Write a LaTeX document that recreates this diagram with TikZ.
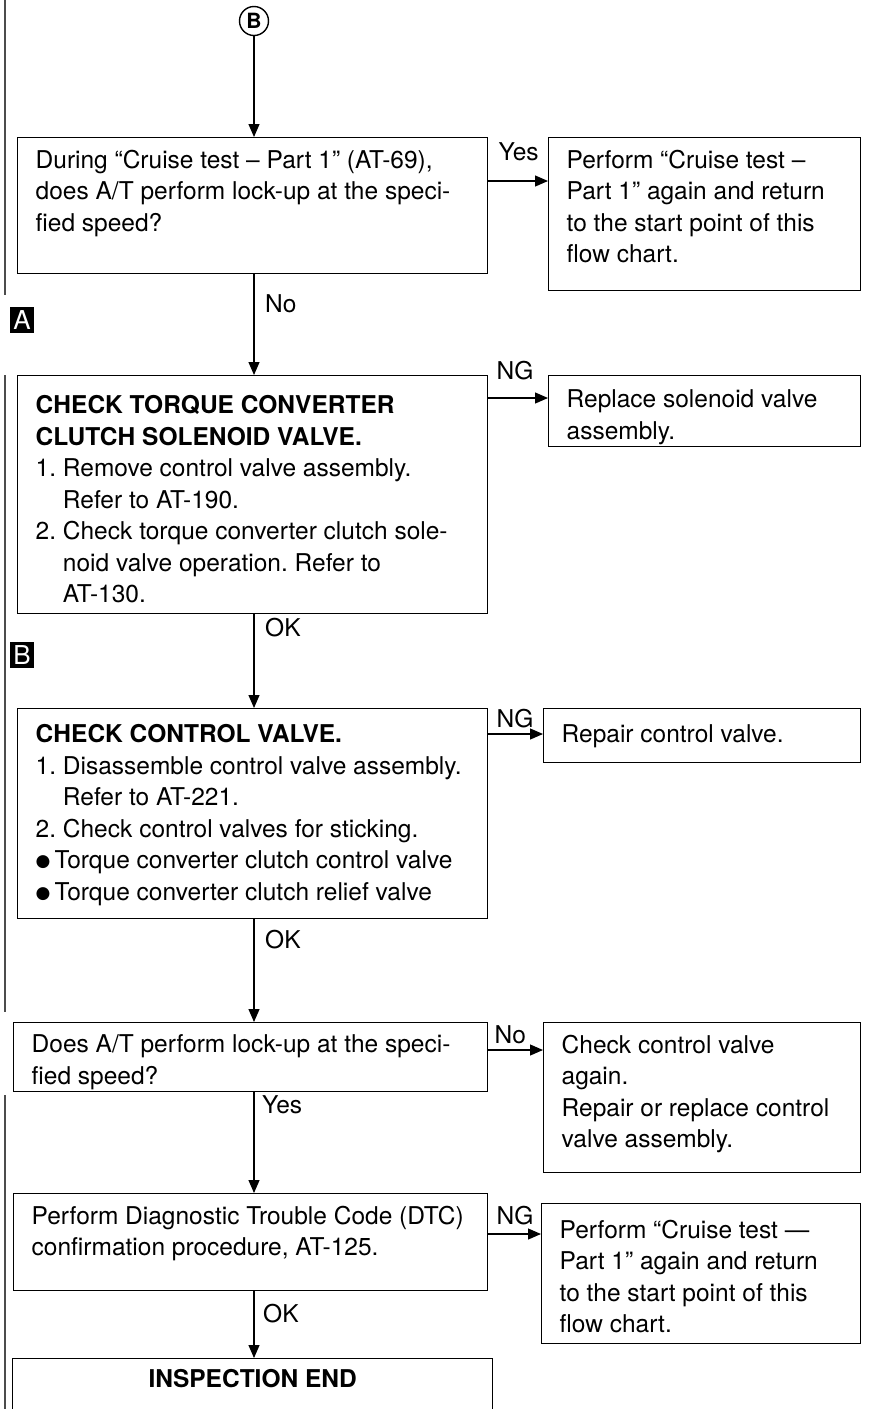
\documentclass[tikz,border=0pt]{standalone}
\usepackage{fontspec}
\setmainfont{TeX Gyre Heros}
\newfontfamily\symfont{DejaVu Sans}
\usetikzlibrary{arrows.meta, positioning, calc}

\newcommand{\chartfont}{\fontsize{24.5pt}{31.5pt}\selectfont}
% text block of a chart box: [top gap], width, height, lines
\newcommand{\boxtext}[4][12pt]{\parbox[c][#3][t]{#2}{\frenchspacing\leftskip=18pt\rightskip=0pt plus 1fil\parindent=0pt\vspace*{#1}#4}}
\newcommand{\dotitem}{\raisebox{2pt}{\symfont\fontsize{17pt}{17pt}\selectfont ●}\kern4pt}
\newcommand{\cont}{\hphantom{1.\ }}

\begin{document}
\begin{tikzpicture}[x=1pt, y=-1pt,
  chk/.style={draw, line width=1.4pt, anchor=north west, inner sep=0pt, font=\chartfont},
  arr/.style={-{Triangle[length=13pt,width=11pt]}, line width=1.2pt},
  lbl/.style={font=\chartfont, inner sep=0pt},
  tagbox/.style={fill=black, text=white, minimum width=24pt, minimum height=26pt, inner sep=0pt, font=\fontsize{26pt}{26pt}\selectfont}
]
  \useasboundingbox (0,0) rectangle (868,1409);
  \clip (0,0) rectangle (868,1409);

  % page edge marks
  \draw[line width=1.5pt, black!70] (5,0) -- (5,295) (5,375) -- (5,1012) (5,1095) -- (5,1409);

  % ── entry ──
  \node[circle, draw, line width=1.4pt, inner sep=0pt, minimum size=29pt, font=\fontsize{21pt}{21pt}\selectfont\bfseries] (start) at (254,21) {B};

  % ── left column ──
  \node[chk] (q1) at (17,137) {\boxtext{470pt}{136pt}{During “Cruise test – Part 1” (AT-69),\\does A/T perform lock-up at the speci-\\fied speed?}};
  \node[chk] (q2) at (17,375) {\boxtext[20pt]{470pt}{238pt}{{\bfseries CHECK TORQUE CONVERTER\\CLUTCH SOLENOID VALVE.}\\1. Remove control valve assembly.\\\cont Refer to AT-190.\\2. Check torque converter clutch sole-\\\cont noid valve operation. Refer to\\\cont AT-130.}};
  \node[chk] (q3) at (17,708) {\boxtext[16pt]{470pt}{210pt}{{\bfseries CHECK CONTROL VALVE.}\\1. Disassemble control valve assembly.\\\cont Refer to AT-221.\\2. Check control valves for sticking.\\\dotitem Torque converter clutch control valve\\\dotitem Torque converter clutch relief valve}};
  \node[chk] (q4) at (13,1022) {\boxtext{474pt}{69pt}{Does A/T perform lock-up at the speci-\\fied speed?}};
  \node[chk] (q5) at (13,1193) {\boxtext{474pt}{97pt}{Perform Diagnostic Trouble Code (DTC)\\confirmation procedure, AT-125.}};
  \node[chk] (fin) at (12,1358) {\parbox[c][90pt][t]{480pt}{\centering\vspace*{11pt}\bfseries INSPECTION END}};

  % ── right column ──
  \node[chk] (a1) at (548,137) {\boxtext{312pt}{153pt}{Perform “Cruise test –\\Part 1” again and return\\to the start point of this\\flow chart.}};
  \node[chk] (a2) at (548,375) {\boxtext[14pt]{312pt}{71pt}{Replace solenoid valve\\assembly.}};
  \node[chk] (a3) at (543,708) {\boxtext[16pt]{317pt}{54pt}{Repair control valve.}};
  \node[chk] (a4) at (543,1022) {\boxtext{317pt}{150pt}{Check control valve\\again.\\Repair or replace control\\valve assembly.}};
  \node[chk] (a5) at (541,1203) {\boxtext[16pt]{319pt}{140pt}{Perform “Cruise test —\\Part 1” again and return\\to the start point of this\\flow chart.}};

  % ── section tags ──
  \node[tagbox] (tagA) at (22,320) {A};
  \node[tagbox] (tagB) at (22,655) {B};

  % ── main line ──
  \draw[arr] (start) -- (start |- q1.north);
  \draw[arr] (q1.south -| start) -- (start |- q2.north);
  \draw[arr] (q2.south -| start) -- (start |- q3.north);
  \draw[arr] (q3.south -| start) -- (start |- q4.north);
  \draw[arr] (q4.south -| start) -- (start |- q5.north);
  \draw[arr] (q5.south -| start) -- (start |- fin.north);

  \node[lbl, anchor=west] (l1) at ($(q1.south -| start)+(11,29)$) {No};
  \node[lbl, anchor=west] (l2) at ($(q2.south -| start)+(11,13)$) {OK};
  \node[lbl, anchor=west] (l3) at ($(q3.south -| start)+(11,20)$) {OK};
  \node[lbl, anchor=west] (l4) at ($(q4.south -| start)+(8,12)$) {Yes};
  \node[lbl, anchor=west] (l5) at ($(q5.south -| start)+(9,22)$) {OK};

  % ── side branches ──
  \coordinate (y1) at ($(q1.north east)+(0,44)$);
  \coordinate (y2) at ($(q2.north east)+(0,23)$);
  \coordinate (y3) at ($(q3.north east)+(0,26)$);
  \coordinate (y4) at ($(q4.north east)+(0,28)$);
  \coordinate (y5) at ($(q5.north east)+(0,41)$);
  \draw[arr] (y1) -- (y1 -| a1.west);
  \draw[arr] (y2) -- (y2 -| a2.west);
  \draw[arr] (y3) -- (y3 -| a3.west);
  \draw[arr] (y4) -- (y4 -| a4.west);
  \draw[arr] (y5) -- (y5 -| a5.west);

  \node[lbl, anchor=south west] (s1) at ($(y1)+(10,-20)$) {Yes};
  \node[lbl, anchor=south west] (s2) at ($(y2)+(8,-18)$) {NG};
  \node[lbl, anchor=south west] (s3) at ($(y3)+(8,-6)$) {NG};
  \node[lbl, anchor=south west] (s4) at ($(y4)+(6,-6)$) {No};
  \node[lbl, anchor=south west] (s5) at ($(y5)+(8,-9)$) {NG};
\end{tikzpicture}
\end{document}
